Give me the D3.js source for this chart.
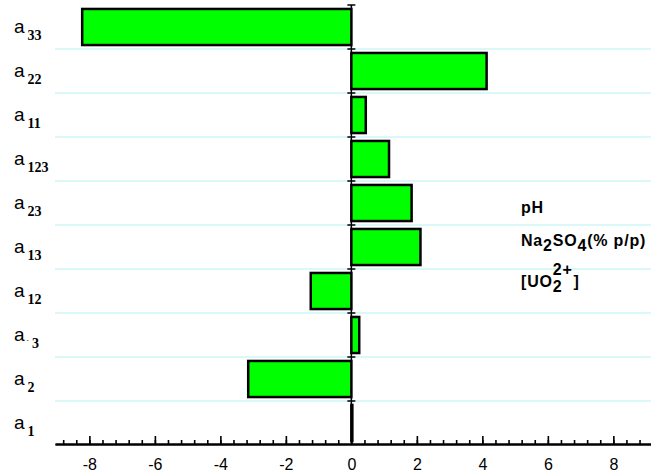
<!DOCTYPE html>
<html>
<head>
<meta charset="utf-8">
<script src="https://cdn.jsdelivr.net/npm/d3@7"></script>
<style>
  body { margin: 0; background: #fff; }
  svg { display: block; }
</style>
</head>
<body>
<svg id="chart" width="651" height="475"></svg>
<script>
// Regression coefficients (effects) of the model terms
const categories   = ["a33", "a22", "a11", "a123", "a23", "a13", "a12", "a.3", "a2", "a1"];
const labelSubs    = ["33", "22", "11", "123", "23", "13", "12", ".3", "2", "1"];
const coefficients = [-8.22, 4.13, 0.44, 1.15, 1.84, 2.11, -1.24, 0.24, -3.15, 0.03];

// Axis ticks
const majorTicks = [-8, -6, -4, -2, 0, 2, 4, 6, 8];
const tickLabels = ["-8", "-6", "-4", "-2", "0", "2", "4", "6", "8"];
const minorStep = 0.4;

const svg = d3.select("#chart");

const x = d3.scaleLinear().domain([-9.05, 9.15]).range([55, 651]);
const rows = d3.scaleBand().domain(categories).range([5, 445]);
const y = d3.scaleBand().domain(categories).range([5, 445])
  .paddingInner(0.18).paddingOuter(0.09);

const axisY = 444;

// row separators
svg.append("g")
  .selectAll("line")
  .data(categories.slice(1))
  .join("line")
  .attr("x1", x.range()[0])
  .attr("x2", x.range()[1])
  .attr("y1", d => rows(d))
  .attr("y2", d => rows(d))
  .attr("stroke", "#b4f1f1")
  .attr("stroke-width", 1);

// vertical zero line with small cross ticks at every row boundary
const zero = svg.append("g");
zero.append("line")
  .attr("x1", x(0)).attr("x2", x(0))
  .attr("y1", rows(categories[0])).attr("y2", axisY)
  .attr("stroke", "#000").attr("stroke-width", 1.5);
zero.selectAll("line.cross")
  .data(categories)
  .join("line")
  .attr("class", "cross")
  .attr("x1", x(0) - 4).attr("x2", x(0) + 4)
  .attr("y1", d => rows(d)).attr("y2", d => rows(d))
  .attr("stroke", "#000").attr("stroke-width", 1.5);

// bars
svg.append("g")
  .selectAll("rect")
  .data(categories)
  .join("rect")
  .attr("x", (d, i) => Math.min(x(0), x(coefficients[i])))
  .attr("width", (d, i) => Math.abs(x(coefficients[i]) - x(0)))
  .attr("y", d => y(d))
  .attr("height", y.bandwidth())
  .attr("fill", "#00ff00")
  .attr("stroke", "#000")
  .attr("stroke-width", 2.5);

// x axis: minor ticks, then major ticks with labels
const minorTicks = d3.range(-22, 24).map(i => +(i * minorStep).toFixed(1));
const gMinor = svg.append("g").attr("transform", `translate(0,${axisY})`)
  .call(d3.axisBottom(x).tickValues(minorTicks).tickSize(-4).tickSizeOuter(0).tickFormat(""));
const gMajor = svg.append("g").attr("transform", `translate(0,${axisY})`)
  .call(d3.axisBottom(x).tickValues(majorTicks).tickSize(-8).tickSizeOuter(0)
    .tickPadding(15).tickFormat((d, i) => tickLabels[i]));
[gMinor, gMajor].forEach(g => {
  g.select(".domain").attr("stroke", "#000").attr("stroke-width", 2);
  g.selectAll(".tick line").attr("stroke", "#000").attr("stroke-width", 1.6);
});
gMajor.selectAll(".tick text")
  .attr("fill", "#000")
  .style("font-family", "'Liberation Sans', Arial, sans-serif")
  .style("font-size", "16px");

// row labels: "a" with a serif subscript
const lab = svg.append("g")
  .selectAll("text")
  .data(categories)
  .join("text")
  .attr("x", 14)
  .attr("y", d => rows(d) + rows.bandwidth() / 2 + 6)
  .attr("fill", "#000")
  .style("font-family", "'Liberation Sans', Arial, sans-serif")
  .style("font-size", "19px");
lab.append("tspan").text("a");
lab.each(function (d, i) {
  const t = d3.select(this);
  let sub = labelSubs[i];
  if (sub.startsWith(".")) {
    t.append("tspan").attr("dx", 2).style("font-size", "9px").text(".");
    sub = sub.slice(1);
  }
  t.append("tspan")
    .attr("dx", 3)
    .attr("dy", 7)
    .style("font-family", "'Liberation Serif', 'Times New Roman', serif")
    .style("font-weight", "bold")
    .style("font-size", "14px")
    .text(sub);
});

// factor legend
const legendX = 521;
const legendFont = "'Liberation Sans', Arial, sans-serif";
const leg = svg.append("g")
  .attr("fill", "#000")
  .style("font-family", legendFont)
  .style("font-size", "16px")
  .style("font-weight", "bold")
  .style("letter-spacing", "0.8px");

leg.append("text").attr("x", legendX).attr("y", 213).text("pH");

const na = leg.append("text").attr("x", legendX).attr("y", 246);
na.append("tspan").text("Na");
na.append("tspan").attr("dy", 5).text("2");
na.append("tspan").attr("dy", -5).text("SO");
na.append("tspan").attr("dy", 5).text("4");
na.append("tspan").attr("dy", -5).text("(% p/p)");

const uoBase = 287;
const uo = leg.append("text").attr("x", legendX).attr("y", uoBase).text("[UO");
const uoW = uo.node().getComputedTextLength();
leg.append("text").attr("x", legendX + uoW).attr("y", uoBase + 5).text("2");
const sup = leg.append("text").attr("x", legendX + uoW).attr("y", uoBase - 12).text("2+");
const supW = sup.node().getComputedTextLength();
leg.append("text").attr("x", legendX + uoW + supW + 1).attr("y", uoBase).text("]");
</script>
</body>
</html>
